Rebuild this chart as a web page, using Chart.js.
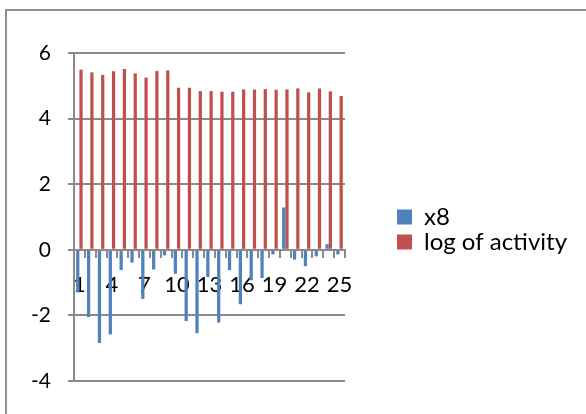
<!DOCTYPE html>
<html>
<head>
<meta charset="utf-8">
<script src="https://cdn.jsdelivr.net/npm/chart.js@4/dist/chart.umd.min.js"></script>
<style>
  html, body { margin: 0; padding: 0; background: #fff; overflow: hidden; }
  #wrap { position: relative; width: 586px; height: 414px; }
  #frame { position: absolute; left: 5px; top: 9px; width: 700px; height: 600px;
           border-left: 2px solid #8f8f8f; border-top: 2px solid #8f8f8f; }
  canvas { position: absolute; left: 0; top: 0; }
</style>
</head>
<body>
<div id="wrap">
  <div id="frame"></div>
  <canvas id="chart" width="586" height="414"></canvas>
</div>
<script>
// Sample numbers along the category axis
const categories = ['1','2','3','4','5','6','7','8','9','10','11','12','13',
                    '14','15','16','17','18','19','20','21','22','23','24','25'];

// x8 series
const x8Values = [-1.30, -2.05, -2.84, -2.58, -0.62, -0.39, -1.50, -0.60, -0.17, -0.73,
                  -2.17, -2.54, -0.83, -2.22, -0.62, -1.66, -0.93, -0.86, -0.14, 1.29,
                  -0.30, -0.50, -0.20, 0.17, -0.14];

// log of activity series
const logActivity = [5.49, 5.41, 5.33, 5.44, 5.51, 5.38, 5.25, 5.45, 5.47, 4.94,
                     4.94, 4.84, 4.84, 4.82, 4.82, 4.89, 4.89, 4.90, 4.88, 4.89,
                     4.92, 4.80, 4.92, 4.83, 4.69];

// Value axis ticks
const yTicks = { min: -4, max: 6, step: 2 };

const FONT = 'Lato, "Liberation Sans", sans-serif';
const AXIS_GREY = '#8a8a8a';

new Chart(document.getElementById('chart'), {
  type: 'bar',
  data: {
    labels: categories,
    datasets: [
      { label: 'x8', data: x8Values, backgroundColor: '#4F81BD',
        xAxisID: 'x', yAxisID: 'y', categoryPercentage: 0.6, barPercentage: 1.0 },
      { label: 'log of activity', data: logActivity, backgroundColor: '#C0504D',
        xAxisID: 'x', yAxisID: 'y', categoryPercentage: 0.6, barPercentage: 1.0 }
    ]
  },
  options: {
    responsive: false,
    animation: false,
    layout: { padding: { top: 53, bottom: 8, left: 0, right: 9 } },
    plugins: {
      tooltip: { enabled: false },
      legend: {
        position: 'right',
        maxWidth: 300,
        labels: {
          boxWidth: 15, boxHeight: 15, padding: 1, color: '#000',
          font: { family: FONT, size: 24, lineHeight: 1 }
        }
      }
    },
    scales: {
      x: {
        type: 'category',
        position: { y: 0 },
        z: 1,
        grid: { offset: true, drawOnChartArea: false, tickLength: 7, color: AXIS_GREY, lineWidth: 2 },
        border: { color: AXIS_GREY, width: 2 },
        ticks: {
          autoSkip: false, maxRotation: 0, padding: 15, color: '#000',
          font: { family: FONT, size: 22 },
          callback: (v, i) => (i % 3 === 0 ? categories[i] : '')
        }
      },
      // spacer below the plot so the legend sits a little lower
      xPad: {
        type: 'category', position: 'bottom',
        grid: { display: false }, border: { display: false }, ticks: { display: false },
        afterFit: s => { s.height = 25; }
      },
      y: {
        type: 'linear',
        min: yTicks.min, max: yTicks.max,
        ticks: { stepSize: yTicks.step, padding: 17, color: '#000', font: { family: FONT, size: 21 } },
        grid: { color: AXIS_GREY, lineWidth: 2, tickLength: 6 },
        border: { color: AXIS_GREY, width: 2 },
        afterFit: s => { s.width = 74; }
      },
      // gap between the plot and the legend
      yPad: {
        type: 'linear', position: 'right',
        grid: { display: false }, border: { display: false }, ticks: { display: false },
        afterFit: s => { s.width = 51; }
      }
    }
  }
});
</script>
</body>
</html>
